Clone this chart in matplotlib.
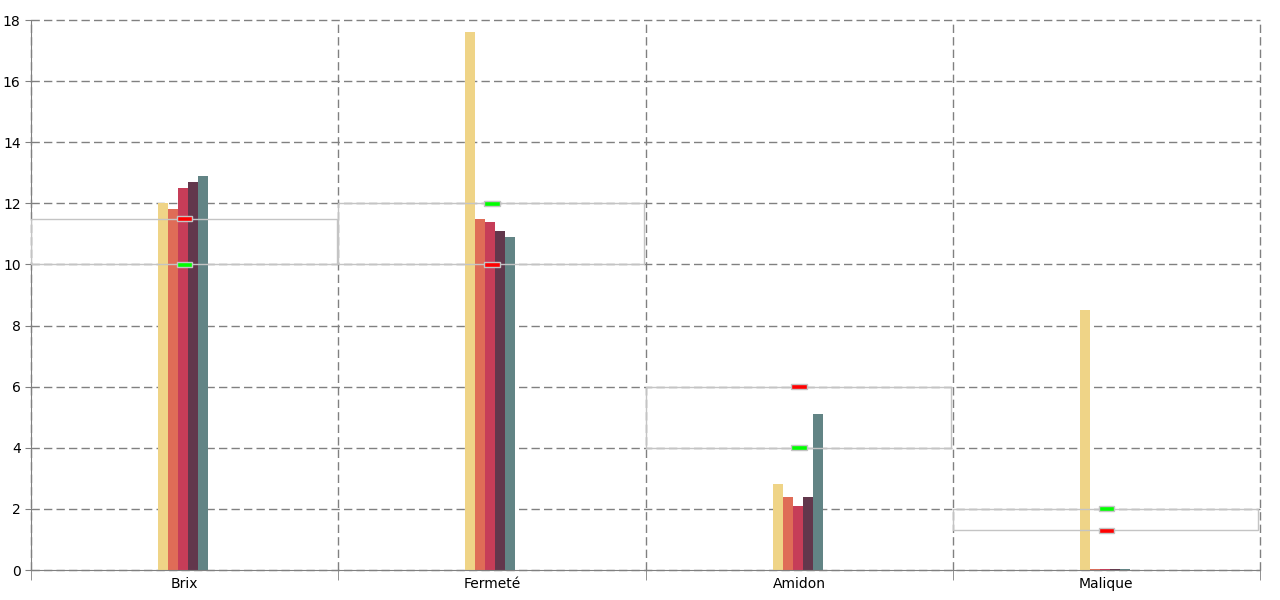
import matplotlib
matplotlib.use("Agg")
import matplotlib.pyplot as plt
from matplotlib.patches import Rectangle

categories = ["Brix", "Fermeté", "Amidon", "Malique"]
series_a = [12.0, 17.6, 2.8, 8.5]
series_b = [11.8, 11.5, 2.4, 0.03]
series_c = [12.5, 11.4, 2.1, 0.03]
series_d = [12.7, 11.1, 2.4, 0.03]
series_e = [12.9, 10.9, 5.1, 0.03]
green_marks = [10.0, 12.0, 4.0, 2.0]
red_marks = [11.5, 10.0, 6.0, 1.3]

colors = ["#EFD487", "#DF6C57", "#C63D58", "#62374C", "#628485"]
grid_col = "#808080"
box_col = "#C4C4C4"

fig = plt.figure(figsize=(12.8, 6), dpi=100)
ax = fig.add_axes([31/1280, 30/600, 1229/1280, 550/600])

width = 0.0326
allseries = [series_a, series_b, series_c, series_d, series_e]
for k, vals in enumerate(allseries):
    xs = [i + (k - 2) * width - 0.005 for i in range(len(categories))]
    ax.bar(xs, vals, width=width, color=colors[k], zorder=2, linewidth=0)

for i in range(len(categories)):
    lo = min(green_marks[i], red_marks[i])
    hi = max(green_marks[i], red_marks[i])
    ax.add_patch(Rectangle((i - 0.5, lo), 0.995, hi - lo, facecolor="none",
                           edgecolor=box_col, lw=1, zorder=3))
    for val, c in ((green_marks[i], "#00FF00"), (red_marks[i], "#FF0000")):
        ax.add_patch(Rectangle((i - 0.025, val - 0.085), 0.05, 0.17,
                               facecolor=c, edgecolor=box_col, lw=1, zorder=4))

ax.set_xlim(-0.5, 3.5)
ax.set_ylim(0, 18)
ax.set_yticks(range(0, 19, 2))
ax.set_xticks(range(len(categories)))
ax.set_xticklabels(categories)
ax.set_xticks([-0.5, 0.5, 1.5, 2.5, 3.5], minor=True)
ax.tick_params(axis="x", which="major", length=0, pad=5, labelsize=10)
ax.tick_params(axis="x", which="minor", length=7, color=grid_col)
ax.tick_params(axis="y", length=4, color=grid_col, labelsize=10)

ax.grid(axis="y", which="major", color=grid_col, linestyle=(0, (6, 3)), lw=1, zorder=1)
ax.grid(axis="x", which="minor", color=grid_col, linestyle=(0, (6, 3)), lw=1, zorder=1)
for t in ax.xaxis.get_minor_ticks() + ax.yaxis.get_major_ticks():
    t.gridline.set_clip_on(False)
ax.set_axisbelow(True)

for side in ("top", "right"):
    ax.spines[side].set_visible(False)
for side in ("left", "bottom"):
    ax.spines[side].set_color(grid_col)

fig.savefig("out.png", dpi=100)
